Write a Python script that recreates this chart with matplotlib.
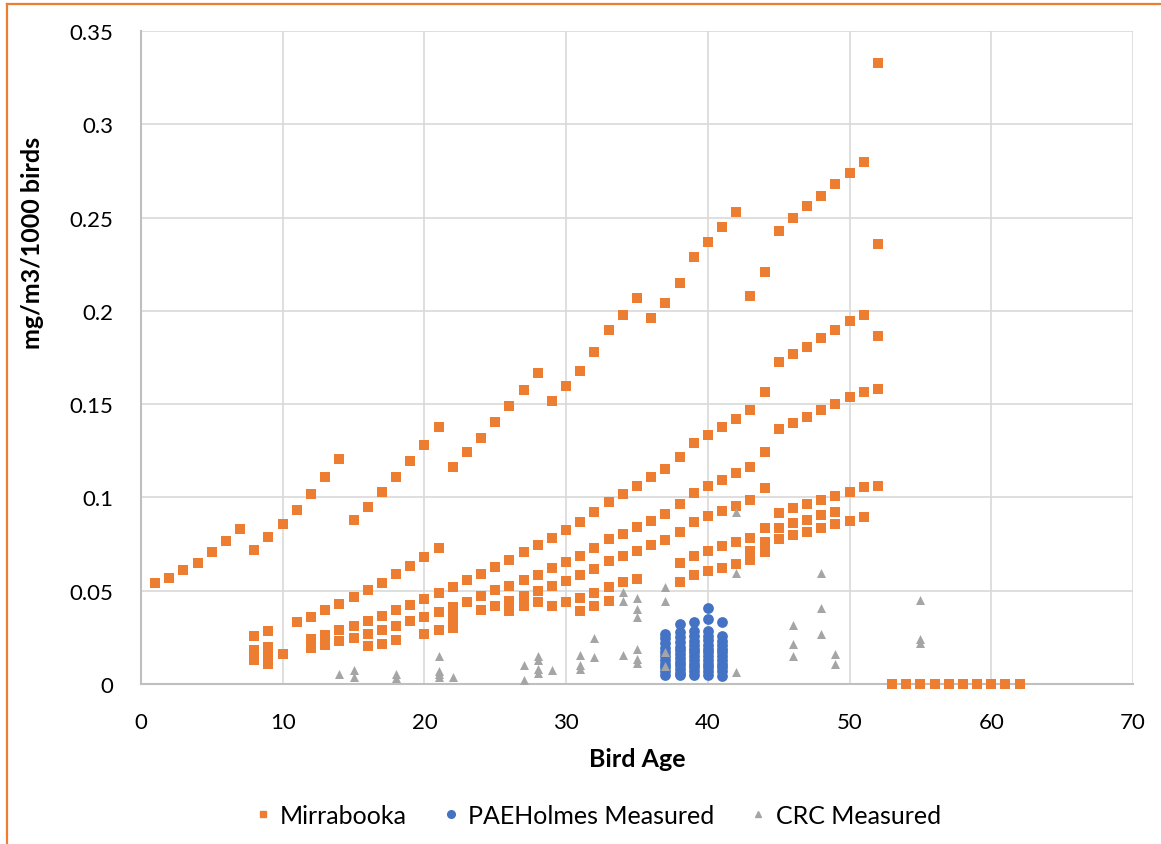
import numpy as np
import matplotlib
matplotlib.use("Agg")
import matplotlib.pyplot as plt
from matplotlib.lines import Line2D

plt.rcParams['font.family'] = ['Lato', 'DejaVu Sans']

# --- data: Mirrabooka (modelled), grouped by trend line ---
t1_age = list(range(1, 53)) + [52]
t1_val = [0.054, 0.057, 0.061, 0.065, 0.0706, 0.0766, 0.0832,
          0.0718, 0.0786, 0.0857, 0.0932, 0.102, 0.111, 0.1204,
          0.088, 0.095, 0.103, 0.111, 0.1195, 0.128, 0.1376,
          0.1165, 0.1245, 0.132, 0.1406, 0.1488, 0.1576, 0.1667,
          0.1518, 0.160, 0.168, 0.178, 0.190, 0.198, 0.207,
          0.196, 0.204, 0.215, 0.229, 0.237, 0.245, 0.253,
          0.208, 0.221, 0.243, 0.250, 0.256, 0.2615, 0.268, 0.274, 0.280, 0.333,
          0.236]

t2_age = [8, 9] + list(range(11, 53))
t2_val = [0.0255, 0.0282,
          0.0334, 0.036, 0.0395, 0.043, 0.0464, 0.0504, 0.0543, 0.0588, 0.063, 0.068, 0.0727,
          0.052, 0.0557, 0.0591, 0.0627, 0.0666, 0.0706, 0.0747, 0.0784, 0.0824, 0.0868,
          0.092, 0.0977, 0.102, 0.1063, 0.111, 0.1152, 0.1217, 0.129, 0.1334, 0.1379,
          0.1422, 0.147, 0.1567,
          0.1726, 0.1769, 0.1806, 0.1854, 0.190, 0.1945, 0.198, 0.1865]

t3_age = list(range(12, 53))
t3_val = [0.0241, 0.0264, 0.0289, 0.0313, 0.0338, 0.0364, 0.0397, 0.0425, 0.0456, 0.0486,
          0.0413, 0.044, 0.047, 0.0504, 0.0525, 0.0556, 0.0586, 0.0622, 0.0653, 0.0684,
          0.0727, 0.0775, 0.0805, 0.0841, 0.0875, 0.0911, 0.0965, 0.1025, 0.1061, 0.1095,
          0.1129, 0.1165, 0.1245,
          0.1365, 0.140, 0.1431, 0.1467, 0.150, 0.1536, 0.1567, 0.158]

t4_age = list(range(24, 53))
t4_val = [0.0398, 0.042, 0.0447, 0.0473, 0.050, 0.0525, 0.0552, 0.0582, 0.0618, 0.0657,
          0.0686, 0.0714, 0.0747, 0.0772, 0.0815, 0.0868, 0.0899, 0.0929, 0.0956, 0.0986,
          0.105, 0.0916, 0.0943, 0.0965, 0.0986, 0.1009, 0.1029, 0.1056, 0.1061]

t5_age = [26, 27, 28, 29, 30, 31, 32, 33, 34, 35,
          38, 39, 40, 41, 42, 43, 44, 45, 46, 47, 48, 49, 50, 51]
t5_val = [0.0393, 0.0416, 0.0438, 0.0416, 0.044, 0.046, 0.049, 0.052, 0.0545, 0.0564,
          0.0648, 0.0688, 0.0711, 0.0738, 0.0759, 0.0781, 0.0834, 0.0836, 0.0861, 0.0879,
          0.0904, 0.0923, 0.0875, 0.0895]

t6_age = [31, 32, 33, 38, 39, 40, 41, 42, 43, 44, 45, 46, 47, 48, 49, 43, 44]
t6_val = [0.039, 0.0418, 0.0443, 0.0548, 0.0584, 0.0606, 0.0622, 0.0643, 0.0714, 0.0763,
          0.0777, 0.080, 0.0815, 0.0838, 0.0856, 0.0664, 0.0706]

young_age = [12, 13, 14, 15, 16, 17, 18, 19, 20, 21, 22,
             16, 17, 18, 20, 21, 22, 22,
             8, 8, 8, 9, 9, 9, 9, 10]
young_val = [0.0195, 0.021, 0.0229, 0.0246, 0.0268, 0.0289, 0.0311, 0.0338, 0.0357, 0.0386, 0.036,
             0.0202, 0.0216, 0.0234, 0.0268, 0.0289, 0.033, 0.030,
             0.0185, 0.015, 0.013, 0.020, 0.016, 0.013, 0.011, 0.0163]

zero_age = [53, 54, 55, 56, 57, 58, 59, 60, 61, 62]
zero_val = [0, 0, 0, 0, 0, 0, 0, 0, 0, 0]

# --- data: PAEHolmes measured ---
pae_age = [37] * 11 + [38] * 13 + [39] * 13 + [40] * 14 + [41] * 12
pae_val = [0.027, 0.0245, 0.022, 0.0195, 0.017, 0.015, 0.013, 0.011, 0.009, 0.007, 0.005,
           0.032, 0.028, 0.025, 0.0225, 0.020, 0.018, 0.016, 0.014, 0.012, 0.010, 0.008, 0.006, 0.005,
           0.033, 0.0285, 0.026, 0.023, 0.021, 0.019, 0.017, 0.015, 0.013, 0.011, 0.009, 0.007, 0.005,
           0.041, 0.035, 0.0285, 0.026, 0.0235, 0.021, 0.019, 0.017, 0.015, 0.013, 0.011, 0.009, 0.007, 0.005,
           0.033, 0.026, 0.023, 0.021, 0.019, 0.017, 0.015, 0.013, 0.011, 0.009, 0.007, 0.0045]

# --- data: CRC measured ---
crc_age = [14, 15, 15, 18, 18, 21, 21, 21, 21, 22, 27, 27, 28, 28, 28, 28, 29,
           31, 31, 31, 32, 32, 34, 34, 34, 35, 35, 35, 35, 35, 35,
           37, 37, 37, 37, 42, 42, 42, 46, 46, 46, 48, 48, 48, 49, 49, 55, 55, 55]
crc_val = [0.0054, 0.0075, 0.0036, 0.0054, 0.003, 0.0148, 0.0071, 0.0054, 0.0036, 0.0039,
           0.0102, 0.0023, 0.0148, 0.013, 0.008, 0.006, 0.0077,
           0.0157, 0.0102, 0.0082, 0.0245, 0.0143, 0.0495, 0.0443, 0.0157,
           0.0463, 0.0402, 0.0357, 0.0188, 0.0134, 0.0111,
           0.0518, 0.0443, 0.017, 0.0098, 0.092, 0.0595, 0.0063,
           0.0316, 0.0214, 0.0152, 0.0595, 0.0409, 0.027, 0.0159, 0.0107,
           0.0452, 0.0241, 0.022]

mirra_age = t1_age + t2_age + t3_age + t4_age + t5_age + t6_age + young_age + zero_age
mirra_val = t1_val + t2_val + t3_val + t4_val + t5_val + t6_val + young_val + zero_val

orange = '#ED7D31'
blue = '#4472C4'
grey = '#A5A5A5'

fig = plt.figure(figsize=(11.61, 8.45), dpi=100)
ax = fig.add_axes([0.1214, 0.1893, 0.8545, 0.7728])

ax.scatter(mirra_age, mirra_val, marker='s', s=42, color=orange, linewidths=0,
           zorder=3, clip_on=False)
ax.scatter(pae_age, pae_val, marker='o', s=60, color=blue, linewidths=0, zorder=4)
ax.scatter(crc_age, crc_val, marker='^', s=42, color=grey, linewidths=0, zorder=5)

ax.set_xlim(0, 70)
ax.set_ylim(0, 0.35)
ax.set_xticks(np.arange(0, 71, 10))
ax.set_yticks(np.arange(0, 0.351, 0.05))
ax.set_yticklabels(['0', '0.05', '0.1', '0.15', '0.2', '0.25', '0.3', '0.35'])
ax.tick_params(length=0, labelsize=16, colors='#000000', pad=20)
ax.grid(True, color='#d9d9d9', linewidth=1.2, zorder=0)
ax.set_axisbelow(True)
for side in ['top', 'right']:
    ax.spines[side].set_visible(False)
for side in ['left', 'bottom']:
    ax.spines[side].set_color('#bfbfbf')
    ax.spines[side].set_linewidth(1.5)

ax.set_xlabel('Bird Age', fontsize=18, fontweight='bold', labelpad=11)
ax.set_ylabel('mg/m3/1000 birds', fontsize=18, fontweight='bold')
ax.yaxis.set_label_coords(-0.098, 0.677)

handles = [
    Line2D([], [], marker='s', linestyle='', color=orange, markersize=5),
    Line2D([], [], marker='o', linestyle='', color=blue, markersize=5.5),
    Line2D([], [], marker='^', linestyle='', color=grey, markersize=5),
]
fig.legend(handles, ['Mirrabooka', 'PAEHolmes Measured', 'CRC Measured'],
           loc='center', bbox_to_anchor=(0.513, 0.034), ncol=3, frameon=False,
           fontsize=18, handletextpad=0.2, handlelength=1.0, columnspacing=1.25)

# orange frame line along the top and left of the picture
fig.add_artist(Line2D([7 / 1161, 1.0], [1 - 5 / 845, 1 - 5 / 845],
                      transform=fig.transFigure, color=orange, linewidth=1.6))
fig.add_artist(Line2D([7 / 1161, 7 / 1161], [0.0, 1 - 5 / 845],
                      transform=fig.transFigure, color=orange, linewidth=1.6))

fig.savefig('out.png', dpi=100)
